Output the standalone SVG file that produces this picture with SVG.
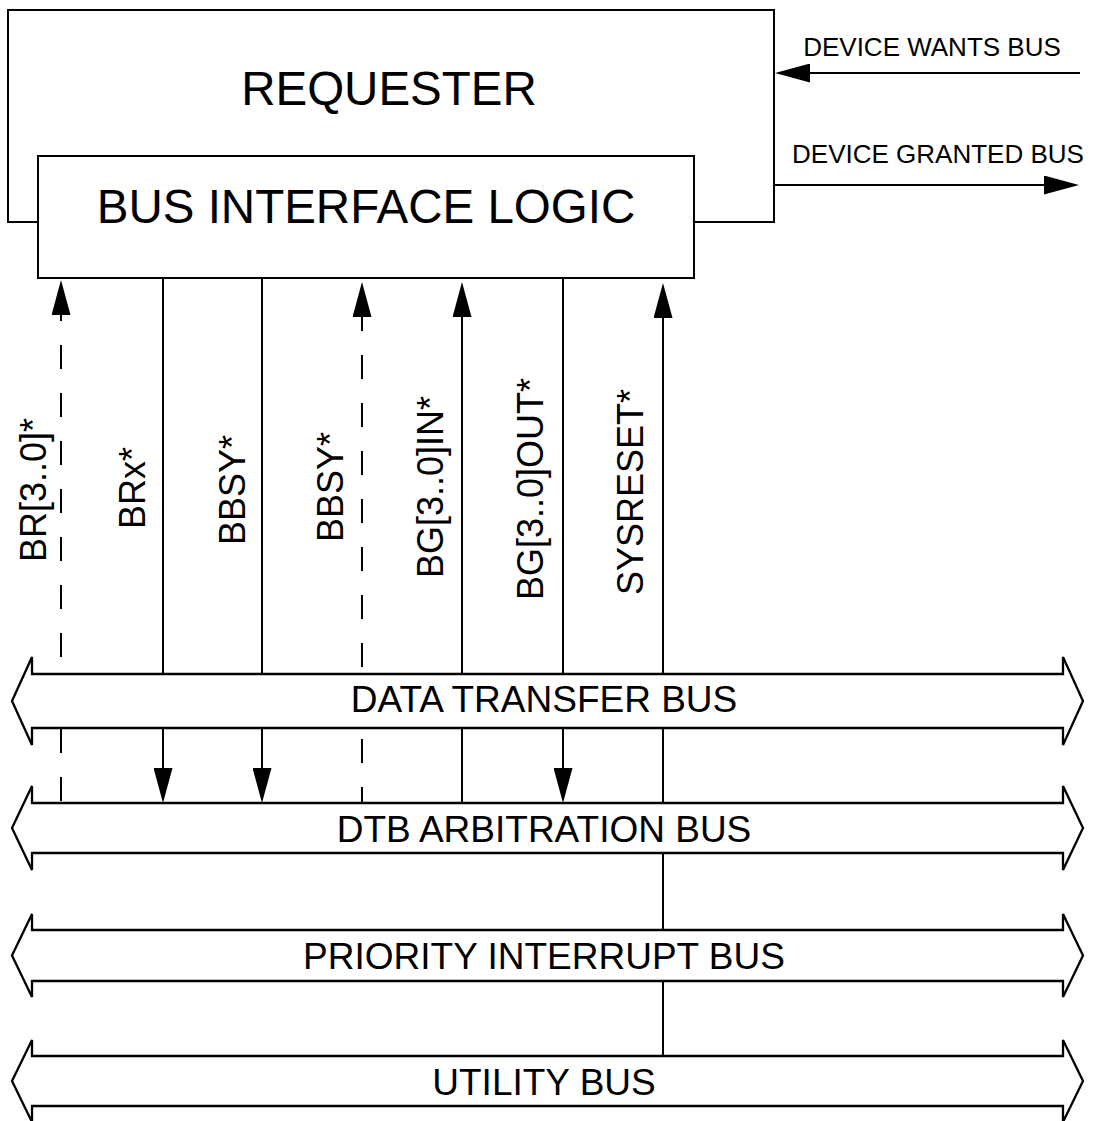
<svg xmlns="http://www.w3.org/2000/svg" width="1094" height="1121" viewBox="0 0 1094 1121">
<style>
.ln{stroke:#000;stroke-width:2;fill:none}
.dash{stroke-dasharray:24 24}
.box{fill:#fff;stroke:#000;stroke-width:2}
.bus{fill:#fff;stroke:#000;stroke-width:2.3;stroke-linejoin:miter}
text{font-family:"Liberation Sans",Arial,sans-serif;fill:#000}
.big{font-size:47.5px}
.sm{font-size:26px}
.sig{font-size:36px}
.bl{font-size:37px}
</style>
<defs>
<marker id="ah" viewBox="0 0 35 19" refX="0" refY="9.5" markerWidth="35" markerHeight="19" markerUnits="userSpaceOnUse" orient="auto">
<path d="M0,0 L35,9.5 L0,19 Z" fill="#000"/>
</marker>
</defs>
<rect width="1094" height="1121" fill="#fff"/>
<g id="connectors">
<path class="ln" d="M1080,73 L810,73" marker-end="url(#ah)"/>
<path class="ln" d="M775,185 L1044,185" marker-end="url(#ah)"/>
<path class="ln dash" d="M61,803 L61,315" stroke-dashoffset="46" marker-end="url(#ah)"/>
<path class="ln" d="M163,278 L163,768" marker-end="url(#ah)"/>
<path class="ln" d="M262,278 L262,768" marker-end="url(#ah)"/>
<path class="ln dash" d="M362,803 L362,317" stroke-dashoffset="8" marker-end="url(#ah)"/>
<path class="ln" d="M462,803 L462,317" marker-end="url(#ah)"/>
<path class="ln" d="M563,278 L563,768" marker-end="url(#ah)"/>
<path class="ln" d="M663,1056 L663,318" marker-end="url(#ah)"/>
<text class="sm" x="932" y="56" text-anchor="middle">DEVICE WANTS BUS</text>
<text class="sm" x="938" y="163" text-anchor="middle">DEVICE GRANTED BUS</text>
<text class="sig" transform="translate(46,490) rotate(-90)" text-anchor="middle">BR[3..0]*</text>
<text class="sig" transform="translate(145,488) rotate(-90)" text-anchor="middle">BRx*</text>
<text class="sig" transform="translate(245,490) rotate(-90)" text-anchor="middle">BBSY*</text>
<text class="sig" transform="translate(343,487) rotate(-90)" text-anchor="middle">BBSY*</text>
<text class="sig" transform="translate(443,487) rotate(-90)" text-anchor="middle">BG[3..0]IN*</text>
<text class="sig" transform="translate(543,489) rotate(-90)" text-anchor="middle">BG[3..0]OUT*</text>
<text class="sig" transform="translate(643,492) rotate(-90)" text-anchor="middle">SYSRESET*</text>
</g>
<g id="requester">
<rect class="box" x="8" y="10" width="766" height="212"/>
<text class="big" x="389" y="105" text-anchor="middle">REQUESTER</text>
</g>
<g id="bus-interface-logic">
<rect class="box" x="38" y="156" width="656" height="122"/>
<text class="big" x="366" y="223" text-anchor="middle">BUS INTERFACE LOGIC</text>
</g>
<g id="data-transfer-bus">
<path class="bus" d="M32,674 H1063 V657 L1083,701 L1063,745 V728 H32 V745 L12,701 L32,657 Z"/>
<text class="bl" x="544" y="712" text-anchor="middle">DATA TRANSFER BUS</text>
</g>
<g id="dtb-arbitration-bus">
<path class="bus" d="M32,803 H1063 V786 L1083,828 L1063,870 V853 H32 V870 L12,828 L32,786 Z"/>
<text class="bl" x="544" y="842" text-anchor="middle">DTB ARBITRATION BUS</text>
</g>
<g id="priority-interrupt-bus">
<path class="bus" d="M32,930 H1063 V914 L1083,955.5 L1063,997 V981 H32 V997 L12,955.5 L32,914 Z"/>
<text class="bl" x="544" y="969" text-anchor="middle">PRIORITY INTERRUPT BUS</text>
</g>
<g id="utility-bus">
<path class="bus" d="M32,1056 H1063 V1040 L1083,1081 L1063,1122 V1106 H32 V1122 L12,1081 L32,1040 Z"/>
<text class="bl" x="544" y="1095" text-anchor="middle">UTILITY BUS</text>
</g>
</svg>
